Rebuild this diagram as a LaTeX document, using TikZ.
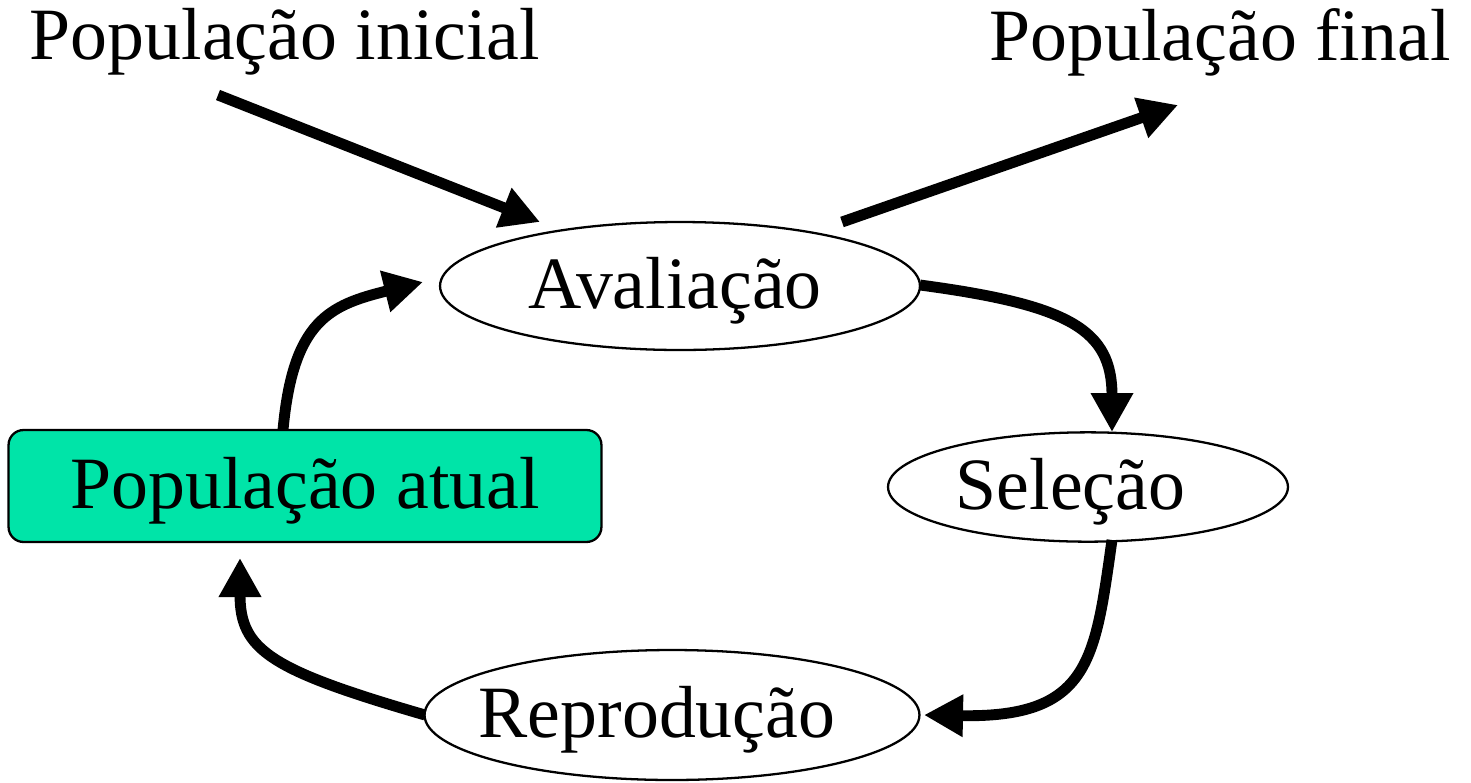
\documentclass[tikz,border=0pt]{standalone}
\usepackage{fontspec}
\setmainfont{Liberation Serif}
\usetikzlibrary{arrows.meta,shapes.geometric}
\definecolor{boxgreen}{RGB}{0,228,168}
\begin{document}
\begin{tikzpicture}[x=0.02cm,y=-0.02cm,
  lbl/.style={font=\fontsize{42}{48}\selectfont, inner sep=0pt},
  ell/.style={ellipse, draw=black, line width=1.3pt, fill=white, inner ysep=0pt, inner xsep=-2cm, font=\fontsize{42}{48}\selectfont, text height=35pt, text depth=9pt},
  conn/.style={line width=6.2pt, -{Triangle[length=0.78cm,width=0.8cm]}}
]
\useasboundingbox (0,0) rectangle (1471,782);
\node[lbl] (ini) at (285,42) {População inicial};
\node[lbl] (fin) at (1220,42) {População final};
\node[ell, minimum width=9.6cm, minimum height=2.56cm] (av) at (680,286) {Avaliação\hspace*{0.2cm}};
\node[ell, minimum width=8cm, minimum height=2.1cm] (se) at (1088,487) {Seleção\hspace*{0.7cm}};
\node[ell, minimum width=9.9cm, minimum height=2.6cm] (re) at (672,715) {Reprodução\hspace*{0.6cm}};
\node[draw=black, line width=1.3pt, fill=boxgreen, rounded corners=0.3cm, minimum width=11.86cm, minimum height=2.24cm, inner sep=0pt, font=\fontsize{42}{48}\selectfont, text height=35pt, text depth=9pt] (pa) at (305,486) {População atual};
\coordinate (a1) at (218,95);
\coordinate (a2) at (540,222);
\coordinate (b1) at (842,222);
\coordinate (b2) at (1178,105);
\coordinate (c1) at (920,285);
\coordinate (c2) at (1112,432);
\coordinate (d1) at (1112,540);
\coordinate (d2) at (924,715);
\coordinate (e1) at (425,715);
\coordinate (e2) at (240,558);
\coordinate (f1) at (283,430);
\coordinate (f2) at (423,282);
\draw[conn] (a1) -- (a2);
\draw[conn] (b1) -- (b2);
\draw[conn] (c1) .. controls (1070,305) and (1112,330) .. (c2);
\draw[conn] (d1) .. controls (1095,660) and (1090,718) .. (d2);
\draw[conn] (e1) .. controls (270,670) and (240,650) .. (e2);
\draw[conn] (f1) .. controls (293,320) and (330,305) .. (f2);
\end{tikzpicture}
\end{document}
